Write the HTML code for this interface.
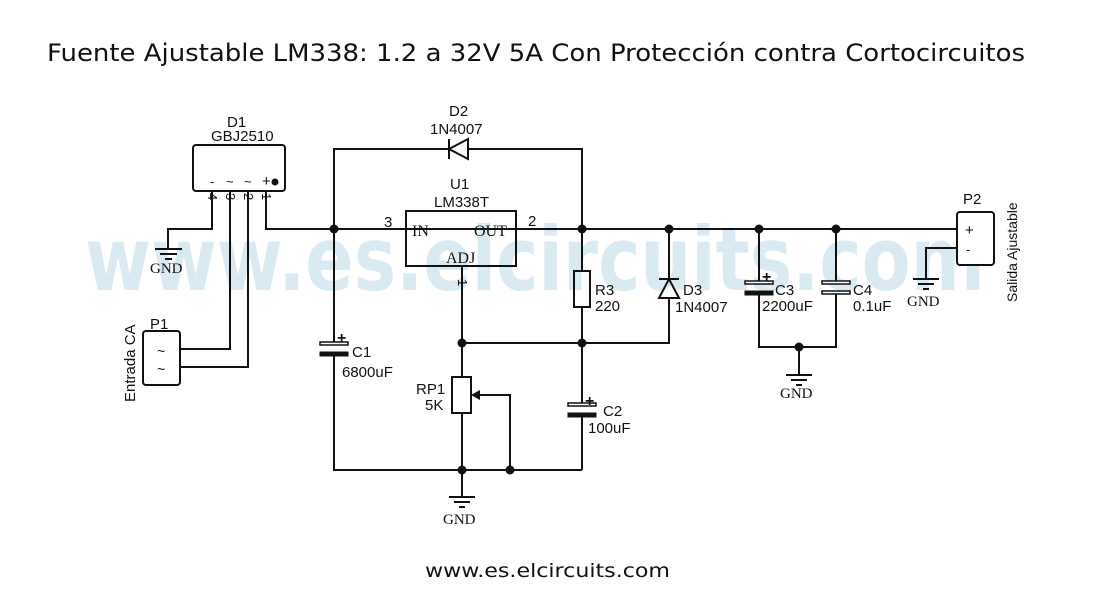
<!DOCTYPE html>
<html><head><meta charset="utf-8"><style>
html,body{margin:0;padding:0;background:#fff;}
svg{display:block;}
text{font-family:"Liberation Sans",Arial,sans-serif;fill:#111;}
text.s{font-family:"DejaVu Sans",sans-serif;}
text.wm{font-family:"DejaVu Sans",sans-serif;font-weight:bold;fill:#d9eaf3;}
.g text,.sr text{font-family:"Liberation Serif",serif;}
</style></head><body>
<svg width="1095" height="616" viewBox="0 0 1095 616" xmlns="http://www.w3.org/2000/svg">
<rect width="1095" height="616" fill="#fff"/>
<text class="wm" x="85" y="290" font-size="88" textLength="900" lengthAdjust="spacingAndGlyphs">www.es.elcircuits.com</text>
<text class="s" x="47" y="61" font-size="24" textLength="978" lengthAdjust="spacingAndGlyphs">Fuente Ajustable LM338: 1.2 a 32V 5A Con Protección contra Cortocircuitos</text>
<text class="s" x="425" y="577" font-size="19" textLength="245" lengthAdjust="spacingAndGlyphs">www.es.elcircuits.com</text>

<g stroke="#111" stroke-width="2" fill="none">
<rect x="193" y="145" width="92" height="46" rx="3" fill="#fff"/>
<path d="M212 191V229H168V249 M230 191V349H180 M248 191V367H180 M266 191V229H582"/>
<path d="M155 249H182 M160 254H177 M165 259H172"/>
<rect x="143" y="331" width="37" height="54" rx="3"/>
<path d="M334 229V149H449 M468 149H582V229"/>
<path d="M468 139V159L449 149Z M449 139V159"/>
<rect x="406" y="211" width="110" height="55"/>
<path d="M516 229H960"/>
<path d="M462 266V470"/>
<path d="M462 343H669V298"/>
<path d="M669 229V279 M659 298H679L669 279Z M659 279H679"/>
<path d="M582 229V271 M582 307V405 M582 415V470"/>
<rect x="574" y="271" width="16" height="36"/>
<path d="M334 229V344 M334 355V470H582"/>
<rect x="452" y="377" width="19" height="36" fill="#fff"/>
<path d="M510 470V395H478"/>
<path d="M462 470V496 M449 497H475 M454 502H470 M459 507H465"/>
<path d="M759 229V283 M759 293V347H836V293 M836 283V229 M799 347V374 M786 375H812 M791 380H807 M796 385H802"/>
<rect x="957" y="212" width="37" height="53" rx="3" fill="#fff"/>
<path d="M957 248H926V278 M913 279H939 M918 284H934 M923 289H929"/>
</g>
<path d="M471 395L480 390V400Z" fill="#111"/>
<g fill="#111" stroke="#111">
<rect x="320" y="342" width="28" height="3" fill="#fff" stroke-width="1.5"/>
<rect x="320" y="352" width="28" height="4"/>
<rect x="568" y="403" width="28" height="3" fill="#fff" stroke-width="1.5"/>
<rect x="568" y="413" width="28" height="4"/>
<rect x="745" y="281" width="28" height="3" fill="#fff" stroke-width="1.5"/>
<rect x="745" y="291" width="28" height="4"/>
<rect x="822" y="281" width="28" height="3" fill="#fff" stroke-width="1.5"/>
<rect x="822" y="291" width="28" height="3" fill="#fff" stroke-width="1.5"/>
</g>
<g fill="#111">
<circle cx="334" cy="229" r="4.5"/><circle cx="582" cy="229" r="4.5"/><circle cx="669" cy="229" r="4.5"/>
<circle cx="759" cy="229" r="4.5"/><circle cx="836" cy="229" r="4.5"/>
<circle cx="462" cy="343" r="4.5"/><circle cx="582" cy="343" r="4.5"/>
<circle cx="462" cy="470" r="4.5"/><circle cx="510" cy="470" r="4.5"/>
<circle cx="799" cy="347" r="4.5"/><circle cx="275" cy="182" r="3.5"/>
</g>
<g font-size="15">
<text x="227" y="127">D1</text><text x="211" y="141">GBJ2510</text>
<text x="210" y="186" font-size="13">-</text><text x="226" y="186" font-size="13">~</text><text x="244" y="186" font-size="13">~</text><text x="262" y="186" font-size="15">+</text>
<text x="150" y="329">P1</text>
<text x="157" y="356" font-size="14">~</text><text x="157" y="374" font-size="14">~</text>
<text x="449" y="116">D2</text><text x="430" y="134">1N4007</text>
<text x="450" y="189">U1</text><text x="434" y="207">LM338T</text>
<text x="384" y="227">3</text><text x="528" y="226">2</text>
<text x="595" y="295">R3</text><text x="595" y="311">220</text>
<text x="683" y="295">D3</text><text x="675" y="312">1N4007</text>
<text x="352" y="357">C1</text><text x="342" y="377">6800uF</text>
<text x="416" y="394">RP1</text><text x="425" y="410">5K</text>
<text x="603" y="416">C2</text><text x="588" y="433">100uF</text>
<text x="775" y="295">C3</text><text x="762" y="311">2200uF</text>
<text x="853" y="295">C4</text><text x="853" y="311">0.1uF</text>
<text x="963" y="204">P2</text>
<text x="965" y="235">+</text><text x="966" y="254" font-size="13">-</text>
</g>
<g font-size="16" font-weight="bold">
<text x="337" y="343">+</text><text x="585" y="406">+</text><text x="762" y="282">+</text>
</g>
<g class="sr" font-size="16">
<text x="412" y="236">IN</text><text x="474" y="236">OUT</text><text x="446" y="263">ADJ</text>
</g>
<g class="g" font-size="15">
<text x="150" y="273">GND</text><text x="443" y="524">GND</text><text x="780" y="398">GND</text><text x="907" y="306">GND</text>
</g>
<g font-size="13">
<text transform="translate(208,193) rotate(90)">4</text>
<text transform="translate(226,193) rotate(90)">3</text>
<text transform="translate(244,193) rotate(90)">2</text>
<text transform="translate(262,193) rotate(90)">1</text>
<text transform="translate(458,279) rotate(90)">1</text>
</g>
<text transform="translate(135,402) rotate(-90)" font-size="15">Entrada CA</text>
<text transform="translate(1017,302) rotate(-90)" font-size="14">Salida Ajustable</text>
</svg>
</body></html>
